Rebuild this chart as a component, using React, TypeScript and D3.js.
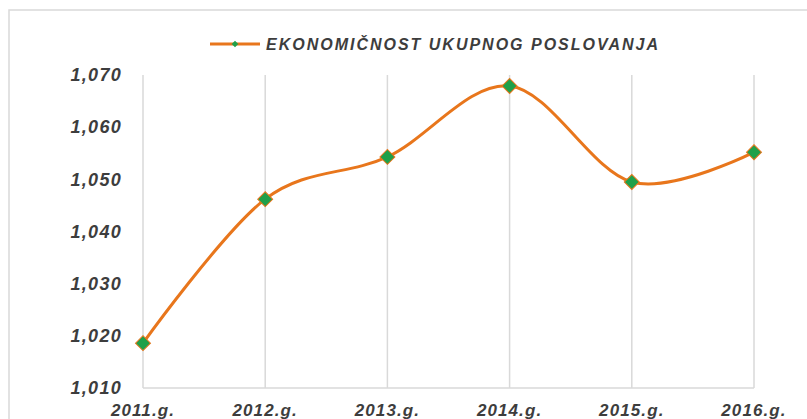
import React, { useEffect, useRef } from "react";
import * as d3 from "d3";

const years = ["2011.g.", "2012.g.", "2013.g.", "2014.g.", "2015.g.", "2016.g."];
const values = [1.0186, 1.0462, 1.0543, 1.0679, 1.0495, 1.0552];
const yTicks = [1.01, 1.02, 1.03, 1.04, 1.05, 1.06, 1.07];
const seriesName = "EKONOMIČNOST UKUPNOG POSLOVANJA";

const App = () => {
	const ref = useRef<HTMLDivElement>(null);

	useEffect(() => {
		const width = 807;
		const height = 419;
		const font = "'Liberation Sans', Arial, sans-serif";
		const textColor = "#3d3d3d";
		const gridColor = "#d9d9d9";
		const lineColor = "#e8761c";
		const markerColor = "#1fa04a";

		d3.select(ref.current).selectAll("*").remove();
		const svg = d3
			.select(ref.current)
			.append("svg")
			.attr("width", width)
			.attr("height", height)
			.style("position", "absolute")
			.style("left", "0px")
			.style("top", "0px")
			.style("background", "#fff");

		// outer chart border (only top and left are visible in the crop)
		svg
			.append("rect")
			.attr("x", 9)
			.attr("y", 10)
			.attr("width", width + 20)
			.attr("height", height + 20)
			.attr("fill", "none")
			.attr("stroke", gridColor)
			.attr("stroke-width", 1.5);

		const x = d3.scalePoint().domain(years).range([143, 754]);
		const y = d3.scaleLinear().domain([1.01, 1.07]).range([388, 75]);

		// vertical gridlines
		svg
			.append("g")
			.selectAll("line")
			.data(years)
			.join("line")
			.attr("x1", (d) => x(d)!)
			.attr("x2", (d) => x(d)!)
			.attr("y1", y(1.07))
			.attr("y2", y(1.01))
			.attr("stroke", gridColor)
			.attr("stroke-width", 1.5);

		// bottom axis line
		svg
			.append("line")
			.attr("x1", x(years[0])!)
			.attr("x2", x(years[years.length - 1])!)
			.attr("y1", y(1.01))
			.attr("y2", y(1.01))
			.attr("stroke", gridColor)
			.attr("stroke-width", 1.5);

		// y tick labels
		svg
			.append("g")
			.selectAll("text")
			.data(yTicks)
			.join("text")
			.attr("x", 122)
			.attr("y", (d) => y(d))
			.attr("dy", "0.35em")
			.attr("text-anchor", "end")
			.attr("font-family", font)
			.attr("font-size", 18)
			.attr("font-weight", "bold")
			.attr("font-style", "italic")
			.attr("letter-spacing", 1.3)
			.attr("fill", textColor)
			.text((d) => d3.format(".3f")(d).replace(".", ","));

		// x tick labels
		svg
			.append("g")
			.selectAll("text")
			.data(years)
			.join("text")
			.attr("x", (d) => x(d)!)
			.attr("y", 416)
			.attr("text-anchor", "middle")
			.attr("font-family", font)
			.attr("font-size", 17)
			.attr("font-weight", "bold")
			.attr("font-style", "italic")
			.attr("letter-spacing", 1.1)
			.attr("fill", textColor)
			.text((d) => d);

		const data = years.map((d, i) => [x(d)!, y(values[i])] as [number, number]);

		const line = d3.line().curve(d3.curveCardinal.tension(0));

		svg
			.append("path")
			.attr("d", line(data))
			.attr("fill", "none")
			.attr("stroke", lineColor)
			.attr("stroke-width", 3);

		const diamond = d3.symbol().type(d3.symbolSquare).size(112);

		svg
			.append("g")
			.selectAll("path")
			.data(data)
			.join("path")
			.attr("d", diamond)
			.attr("transform", (d) => `translate(${d[0]},${d[1]}) rotate(45)`)
			.attr("fill", markerColor)
			.attr("stroke", lineColor)
			.attr("stroke-width", 1);

		// legend
		const legend = svg.append("g");
		legend
			.append("line")
			.attr("x1", 210)
			.attr("x2", 260)
			.attr("y1", 44)
			.attr("y2", 44)
			.attr("stroke", lineColor)
			.attr("stroke-width", 3);
		legend
			.append("path")
			.attr("d", d3.symbol().type(d3.symbolSquare).size(22))
			.attr("transform", "translate(235,44) rotate(45)")
			.attr("fill", markerColor);
		legend
			.append("text")
			.attr("x", 266)
			.attr("y", 44)
			.attr("dy", "0.36em")
			.attr("font-family", font)
			.attr("font-size", 16)
			.attr("font-weight", "bold")
			.attr("font-style", "italic")
			.attr("textLength", 392)
			.attr("lengthAdjust", "spacing")
			.attr("fill", textColor)
			.text(seriesName);
	}, []);

	return <div ref={ref}></div>;
};

export default App;
